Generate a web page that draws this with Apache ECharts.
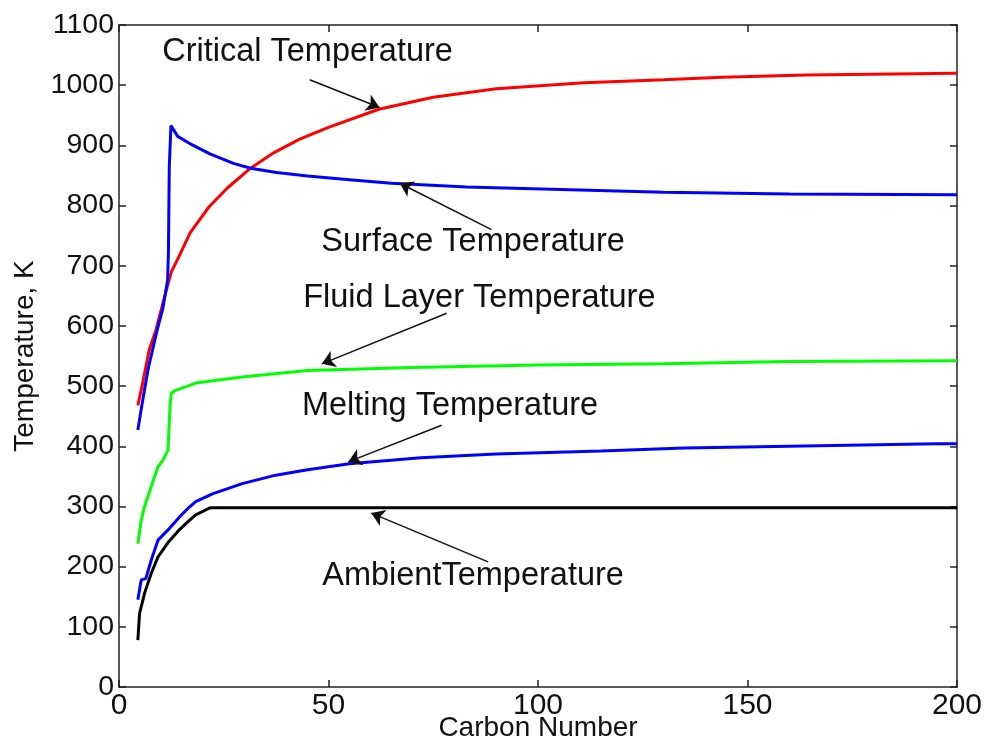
<!DOCTYPE html>
<html>
<head>
<meta charset="utf-8">
<script src="https://cdn.jsdelivr.net/npm/echarts@6/dist/echarts.min.js"></script>
<style>
html,body{margin:0;padding:0;background:#fff;}
#chart{width:989px;height:746px;}
</style>
</head>
<body>
<div id="chart"></div>
<script>
// ---- data (carbon number, temperature K) ----
const criticalC = [4.5, 5.5, 7.2, 8.8, 10, 11.5, 12.5, 14.3, 17, 21.5, 26, 31.4, 37, 43, 50, 62, 75, 90, 111, 130, 144, 164, 200];
const criticalT = [468, 500, 560, 593, 625, 665, 690, 715, 755, 798, 830, 862, 888, 910, 930, 960, 980, 994, 1004, 1009, 1013, 1017, 1020];

const surfaceC = [4.5, 5.5, 7, 9.1, 10.5, 11.6, 11.8, 12.0, 12.4, 14, 16.9, 21.7, 27.3, 31.4, 37.6, 45, 55, 65, 83, 110, 130, 160, 200];
const surfaceT = [427, 470, 530, 593, 630, 676, 723, 864, 933, 915, 903, 886, 870, 862, 855, 849, 843, 837, 831, 826, 822, 819, 818];

const fluidC = [4.5, 5.3, 6.1, 7.7, 9.3, 10.5, 11.7, 12.0, 12.2, 12.5, 13.5, 16, 18.3, 29.4, 45, 70, 100, 130, 160, 200];
const fluidT = [238, 277, 300, 333, 366, 377, 394, 440, 470, 488, 493, 499, 505, 515, 526, 531, 535, 537, 541, 542];

const meltingC = [4.5, 5.3, 6.4, 7.7, 9.3, 11.7, 14.5, 16.8, 18.3, 22.3, 29.4, 37.4, 45, 55, 72, 90, 115, 135, 160, 195, 200];
const meltingT = [145, 178, 180, 211, 244, 261, 283, 299, 308, 321, 338, 352, 361, 371, 381, 387, 392, 397, 400, 404, 404];

const ambientC = [4.5, 4.9, 6.1, 7.7, 9.3, 11.7, 14.5, 16.8, 18.3, 21.5, 22, 200];
const ambientT = [78, 122, 156, 189, 216, 240, 262, 277, 286, 297, 298, 298];

const xTicks = [0, 50, 100, 150, 200];
const yTicks = [0, 100, 200, 300, 400, 500, 600, 700, 800, 900, 1000, 1100];

// annotation texts, their anchor and arrow (from -> to) in data units
const annotations = [
  { text: 'Critical Temperature',    at: [45, 1055],  from: [45.5, 1009], to: [62.2, 963] },
  { text: 'Surface Temperature',     at: [84.5, 739], from: [88.9, 760],  to: [67, 837] },
  { text: 'Fluid Layer Temperature', at: [86, 646],   from: [78.2, 621],  to: [48.4, 537] },
  { text: 'Melting Temperature',     at: [79, 467],   from: [77, 435],    to: [54.7, 374] },
  { text: 'AmbientTemperature',      at: [84.5, 184], from: [88.1, 208],  to: [60.2, 289] }
];

const zip = (xs, ys) => xs.map((x, i) => [x, ys[i]]);

const seriesDefs = [
  { name: 'Critical Temperature', c: criticalC, t: criticalT, color: '#ff0000' },
  { name: 'Surface Temperature', c: surfaceC, t: surfaceT, color: '#0000ff' },
  { name: 'Fluid Layer Temperature', c: fluidC, t: fluidT, color: '#00ff00' },
  { name: 'Melting Temperature', c: meltingC, t: meltingT, color: '#0000ff' },
  { name: 'Ambient Temperature', c: ambientC, t: ambientT, color: '#000000' }
];

const textFont = 'Liberation Sans, Arial, sans-serif';

const series = seriesDefs.map((d, i) => {
  const a = annotations[i];
  return {
    name: d.name,
    type: 'line',
    data: zip(d.c, d.t),
    showSymbol: false,
    symbol: 'none',
    lineStyle: { color: d.color, width: 3 },
    itemStyle: { color: d.color },
    animation: false,
    z: 3,
    markPoint: {
      silent: true,
      animation: false,
      symbol: 'circle',
      symbolSize: 0,
      data: [{ coord: a.at, value: a.text }],
      label: {
        show: true,
        position: 'inside',
        formatter: a.text,
        color: '#111',
        fontFamily: textFont,
        fontSize: 32.5
      }
    },
    markLine: {
      silent: true,
      animation: false,
      symbol: ['none', 'arrow'],
      symbolSize: 13,
      label: { show: false },
      lineStyle: { color: '#111', width: 1.5, type: 'solid' },
      emphasis: { disabled: true },
      data: [[{ coord: a.from }, { coord: a.to }]]
    }
  };
});

const axisLine = { show: true, onZero: false, lineStyle: { color: '#222', width: 1.5 } };
const axisTick = { show: true, inside: true, length: 7, lineStyle: { color: '#222', width: 1.5 } };

const option = {
  backgroundColor: '#fff',
  animation: false,
  grid: { left: 119, right: 32, top: 25, bottom: 59, containLabel: false, outerBoundsMode: 'none' },
  xAxis: [
    {
      type: 'value', min: xTicks[0], max: xTicks[xTicks.length - 1], interval: 50,
      position: 'bottom',
      name: 'Carbon Number', nameLocation: 'middle', nameGap: 27, nameMoveOverlap: false,
      nameTextStyle: { fontFamily: textFont, fontSize: 28, color: '#111' },
      axisLine, axisTick,
      axisLabel: { fontFamily: textFont, fontSize: 30, color: '#111', margin: 4 },
      splitLine: { show: false }
    },
    {
      type: 'value', min: xTicks[0], max: xTicks[xTicks.length - 1], interval: 50,
      position: 'top',
      axisLine, axisTick,
      axisLabel: { show: false },
      splitLine: { show: false }
    }
  ],
  yAxis: [
    {
      type: 'value', min: yTicks[0], max: yTicks[yTicks.length - 1], interval: 100,
      position: 'left',
      name: 'Temperature, K', nameLocation: 'middle', nameGap: 80, nameMoveOverlap: false,
      nameTextStyle: { fontFamily: textFont, fontSize: 28, color: '#111' },
      axisLine, axisTick,
      axisLabel: { fontFamily: textFont, fontSize: 28.5, color: '#111', margin: 5, formatter: v => String(v) },
      splitLine: { show: false }
    },
    {
      type: 'value', min: yTicks[0], max: yTicks[yTicks.length - 1], interval: 100,
      position: 'right',
      axisLine, axisTick,
      axisLabel: { show: false },
      splitLine: { show: false }
    }
  ],
  series
};

const chart = echarts.init(document.getElementById('chart'), null, { renderer: 'canvas' });
chart.setOption(option);
</script>
</body>
</html>
